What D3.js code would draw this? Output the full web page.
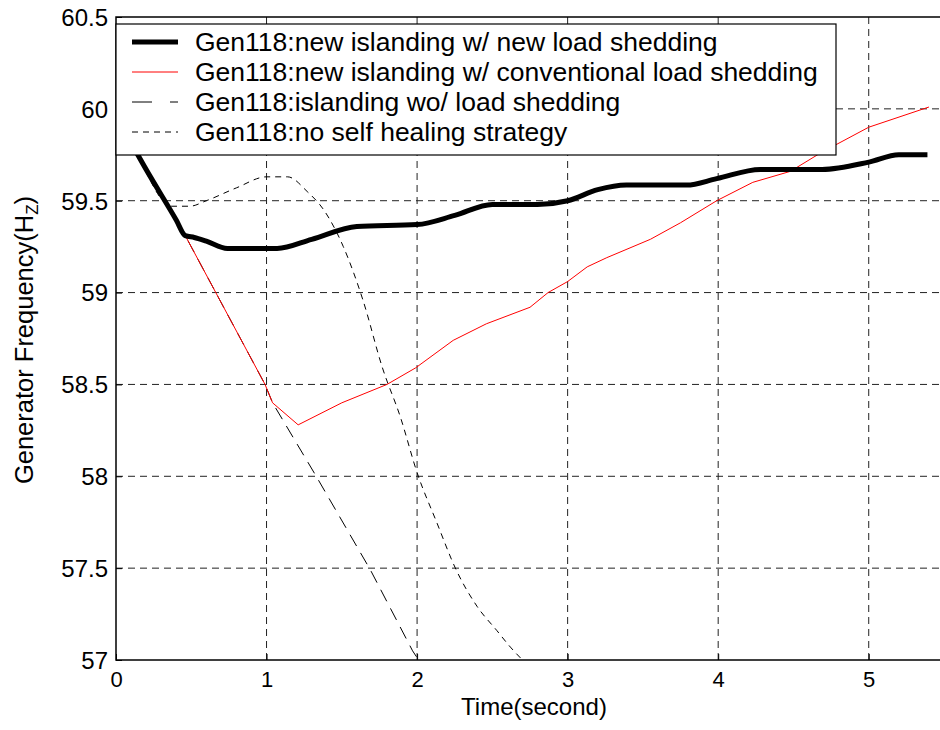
<!DOCTYPE html>
<html>
<head>
<meta charset="utf-8">
<script src="https://cdn.jsdelivr.net/npm/d3@7"></script>
<style>
  body { margin: 0; background: #fff; }
  svg { font-family: "Liberation Sans", Arial, sans-serif; }
</style>
</head>
<body>
<svg id="chart" width="940" height="730"></svg>
<script>
// series (time in seconds, frequency in Hz)
const newShedT = [0, 0.125, 0.40, 0.46, 0.52, 0.6, 0.74, 1.07, 1.3, 1.6, 2.0, 2.25, 2.5, 2.8, 3.0, 3.2, 3.39, 3.79, 3.99, 4.28, 4.69, 5.0, 5.2, 5.39];
const newShedF = [59.98, 59.78, 59.395, 59.31, 59.30, 59.28, 59.24, 59.24, 59.29, 59.36, 59.37, 59.42, 59.48, 59.48, 59.5, 59.56, 59.585, 59.585, 59.62, 59.67, 59.67, 59.71, 59.75, 59.75];

const convShedT = [0, 0.125, 0.46, 0.99, 1.04, 1.21, 1.5, 1.8, 1.99, 2.24, 2.46, 2.75, 2.87, 3.0, 3.13, 3.26, 3.55, 3.75, 3.99, 4.23, 4.48, 4.68, 5.0, 5.4];
const convShedF = [59.98, 59.78, 59.31, 58.5, 58.4, 58.28, 58.4, 58.5, 58.59, 58.74, 58.83, 58.92, 59.0, 59.06, 59.14, 59.19, 59.29, 59.38, 59.5, 59.6, 59.66, 59.76, 59.9, 60.01];

const noShedT = [0, 0.125, 0.46, 0.99, 1.04, 1.33, 1.69, 1.97, 2.05];
const noShedF = [59.98, 59.78, 59.31, 58.5, 58.4, 58.0, 57.49, 57.05, 56.95];

const noHealT = [0, 0.125, 0.37, 0.49, 0.6, 0.8, 1.0, 1.14, 1.27, 1.38, 1.51, 1.64, 1.77, 1.89, 2.0, 2.13, 2.26, 2.4, 2.53, 2.62, 2.7];
const noHealF = [59.98, 59.78, 59.47, 59.47, 59.5, 59.57, 59.63, 59.63, 59.55, 59.45, 59.25, 58.96, 58.59, 58.32, 58.02, 57.75, 57.49, 57.29, 57.16, 57.07, 57.0];

const legendLabels = [
  "Gen118:new islanding w/ new load shedding",
  "Gen118:new islanding w/ conventional load shedding",
  "Gen118:islanding wo/ load shedding",
  "Gen118:no self healing strategy"
];
const xTicks = [0, 1, 2, 3, 4, 5];
const yTicks = [57, 57.5, 58, 58.5, 59, 59.5, 60, 60.5];

const svg = d3.select("#chart");
const pLeft = 116, pTop = 17, pRight = 944, pBottom = 660;

const x = d3.scaleLinear().domain([0, 5.5]).range([pLeft, pRight]);
const y = d3.scaleLinear().domain([57, 60.5]).range([pBottom, pTop]);

svg.append("defs").append("clipPath").attr("id", "plotClip")
  .append("rect").attr("x", pLeft).attr("y", pTop)
  .attr("width", pRight - pLeft).attr("height", pBottom - pTop);

// grid
const grid = svg.append("g").attr("stroke", "#222").attr("stroke-width", 1)
  .attr("stroke-dasharray", "7,5");
grid.selectAll(".gx").data(xTicks.slice(1)).enter().append("line")
  .attr("x1", d => x(d)).attr("x2", d => x(d))
  .attr("y1", pTop).attr("y2", pBottom);
grid.selectAll(".gy").data(yTicks.slice(1, -1)).enter().append("line")
  .attr("y1", d => y(d)).attr("y2", d => y(d))
  .attr("x1", pLeft).attr("x2", pRight);

// axes
const xAxis = d3.axisBottom(x).tickValues(xTicks).tickSize(-6).tickPadding(8).tickFormat(d3.format("d"));
const yAxis = d3.axisLeft(y).tickValues(yTicks).tickSize(-6).tickPadding(8).tickFormat(d => d);

const gx = svg.append("g").attr("transform", `translate(0,${pBottom})`).call(xAxis);
const gy = svg.append("g").attr("transform", `translate(${pLeft},0)`).call(yAxis);
[gx, gy].forEach(g => {
  g.select(".domain").remove();
  g.selectAll(".tick line").attr("stroke", "#000");
  g.selectAll("text").attr("fill", "#000").attr("font-family", "Liberation Sans, Arial, sans-serif");
});
gx.selectAll("text").attr("font-size", 22).attr("y", 27).attr("dy", null);
gy.selectAll("text").attr("font-size", 24).attr("dy", "0.35em");

svg.append("rect").attr("x", pLeft).attr("y", pTop)
  .attr("width", pRight - pLeft).attr("height", pBottom - pTop)
  .attr("fill", "none").attr("stroke", "#000").attr("stroke-width", 1.5);

// lines
const smooth = d3.line().curve(d3.curveMonotoneX).x(d => x(d[0])).y(d => y(d[1]));
const straight = d3.line().x(d => x(d[0])).y(d => y(d[1]));
const plot = svg.append("g").attr("clip-path", "url(#plotClip)").attr("fill", "none");

const series = [
  { t: noHealT, f: noHealF, color: "#000", width: 1, dash: "6,5", gen: smooth },
  { t: noShedT, f: noShedF, color: "#000", width: 1, dash: "13,8", gen: straight },
  { t: convShedT, f: convShedF, color: "#ff0000", width: 1, dash: null, gen: straight },
  { t: newShedT, f: newShedF, color: "#000", width: 5, dash: null, gen: smooth }
];
series.forEach(s => {
  plot.append("path")
    .datum(d3.zip(s.t, s.f))
    .attr("d", s.gen)
    .attr("stroke", s.color)
    .attr("stroke-width", s.width)
    .attr("stroke-dasharray", s.dash);
});

// legend
const legend = svg.append("g");
legend.append("rect").attr("x", 116).attr("y", 24).attr("width", 720).attr("height", 131)
  .attr("fill", "#fff").attr("stroke", "#000").attr("stroke-width", 1.2);
const legendStyle = [series[3], series[2], series[1], series[0]];
legendLabels.forEach((lab, i) => {
  const cy = 42 + i * 30;
  legend.append("line").attr("x1", 132).attr("x2", 178).attr("y1", cy).attr("y2", cy)
    .attr("stroke", legendStyle[i].color).attr("stroke-width", legendStyle[i].width)
    .attr("stroke-dasharray", i === 2 ? "20,18" : legendStyle[i].dash);
  legend.append("text").attr("x", 195).attr("y", cy + 9).attr("font-size", 26.5)
    .attr("fill", "#000").text(lab);
});

// axis titles
svg.append("text").attr("x", 534).attr("y", 715).attr("text-anchor", "middle")
  .attr("font-size", 24).text("Time(second)");

const yl = svg.append("text").attr("transform", "translate(33,340) rotate(-90)")
  .attr("text-anchor", "middle").attr("font-size", 25.5);
yl.append("tspan").text("Generator Frequency(H");
yl.append("tspan").attr("font-size", 17).attr("dy", 5).text("Z");
yl.append("tspan").attr("dy", -5).text(")");
</script>
</body>
</html>
